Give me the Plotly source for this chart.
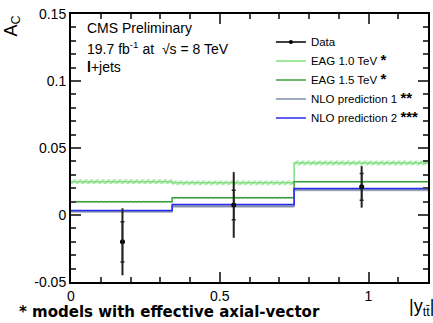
import plotly.graph_objects as go

# ---- data ----
bin_edges = [0.0, 0.34, 0.75, 1.2]
data_x = [0.173, 0.547, 0.977]
data_y = [-0.020, 0.0075, 0.021]
data_err_tot = [0.025, 0.0245, 0.0155]
data_err_stat = [0.015, 0.011, 0.010]

eag10 = [0.0249, 0.0240, 0.0388]
eag10_unc = [0.0018, 0.0018, 0.0018]
eag15 = [0.0099, 0.0129, 0.0249]
eag15_unc = [0.0007, 0.0007, 0.0007]
nlo1 = [0.0027, 0.0065, 0.0188]
nlo1_unc = [0.0010, 0.0010, 0.0010]
nlo2 = [0.0033, 0.0078, 0.0198]

y_ticks = [-0.05, 0, 0.05, 0.1, 0.15]
y_tick_labels = ["-0.05", "0", "0.05", "0.1", "0.15"]
x_ticks = [0, 0.5, 1]
x_tick_labels = ["0", "0.5", "1"]

def step(vals):
    return list(vals) + [vals[-1]]

fig = go.Figure()

def band(vals, unc, fillcolor, pattern=None):
    up = [v + u for v, u in zip(vals, unc)]
    lo = [v - u for v, u in zip(vals, unc)]
    fig.add_trace(go.Scatter(x=bin_edges, y=step(lo), mode="lines", line=dict(width=0, shape="hv"),
                             showlegend=False, hoverinfo="skip"))
    kw = dict(fill="tonexty", fillcolor=fillcolor)
    if pattern:
        kw["fillpattern"] = pattern
    fig.add_trace(go.Scatter(x=bin_edges, y=step(up), mode="lines", line=dict(width=0, shape="hv"),
                             showlegend=False, hoverinfo="skip", **kw))

band(eag10, eag10_unc, "rgba(140,225,140,0.35)",
     dict(shape="/", fgcolor="#55d055", bgcolor="rgba(255,255,255,0)", size=4, solidity=0.55))
band(eag15, eag15_unc, "rgba(60,150,60,0.5)",
     dict(shape="/", fgcolor="#3a9a3a", bgcolor="rgba(255,255,255,0)", size=3, solidity=0.5))
band(nlo1, nlo1_unc, "rgba(120,130,160,0.55)")

def star(n):
    return "<span style='font-size:15px'><b>" + "*" * n + "</b></span>"

fig.add_trace(go.Scatter(x=[None], y=[None], mode="lines+markers", name="Data",
                         line=dict(color="black", width=1.5), marker=dict(color="black", size=4)))
fig.add_trace(go.Scatter(x=bin_edges, y=step(eag10), mode="lines", name="EAG 1.0 TeV " + star(1),
                         line=dict(color="#7ee07e", width=1.5, shape="hv")))
fig.add_trace(go.Scatter(x=bin_edges, y=step(eag15), mode="lines", name="EAG 1.5 TeV " + star(1),
                         line=dict(color="#3f9f3f", width=1.5, shape="hv")))
fig.add_trace(go.Scatter(x=bin_edges, y=step(nlo1), mode="lines", name="NLO prediction 1 " + star(2),
                         line=dict(color="#7f8faa", width=1.5, shape="hv")))
fig.add_trace(go.Scatter(x=bin_edges, y=step(nlo2), mode="lines", name="NLO prediction 2 " + star(3),
                         line=dict(color="#2a2aee", width=1.5, shape="hv")))

# data with total and stat errors
fig.add_trace(go.Scatter(x=data_x, y=data_y, mode="markers", showlegend=False,
                         marker=dict(color="black", size=5),
                         error_y=dict(type="data", array=data_err_tot, color="#222", thickness=2, width=0)))
fig.add_trace(go.Scatter(x=data_x, y=data_y, mode="markers", showlegend=False,
                         marker=dict(color="black", size=1),
                         error_y=dict(type="data", array=data_err_stat, color="#222", thickness=1.5, width=2)))

font = "Liberation Sans, Arial, sans-serif"
axis_common = dict(showline=True, linecolor="black", linewidth=2, mirror="allticks", ticks="inside",
                   ticklen=10, tickcolor="#444", tickwidth=1.5, showgrid=False, zeroline=False,
                   tickfont=dict(family=font, size=14, color="black"),
                   minor=dict(ticks="inside", ticklen=5, tickcolor="#444", tickwidth=1.5))

fig.update_xaxes(range=[0, 1.2], tickvals=x_ticks, ticktext=x_tick_labels,
                 **axis_common)
fig.update_xaxes(minor_dtick=0.1)
fig.update_yaxes(range=[-0.05, 0.15], tickvals=y_ticks, ticktext=y_tick_labels,
                 **axis_common)
fig.update_yaxes(minor_dtick=0.01)

fig.add_annotation(xref="paper", yref="paper", x=0.04, y=0.985, xanchor="left", yanchor="top",
                   text="CMS Preliminary", showarrow=False, font=dict(family=font, size=14, color="black"))
fig.add_annotation(xref="paper", yref="paper", x=0.04, y=0.915, xanchor="left", yanchor="top",
                   text="19.7 fb<sup>-1</sup> at  √s = 8 TeV", showarrow=False,
                   font=dict(family=font, size=14, color="black"))
fig.add_annotation(xref="paper", yref="paper", x=0.04, y=0.84, xanchor="left", yanchor="top",
                   text="<b>l</b>+jets", showarrow=False, font=dict(family=font, size=14, color="black"))

fig.add_annotation(xref="paper", yref="paper", x=-0.165, y=1.0, xanchor="center", yanchor="top",
                   text="A<sub>C</sub>", textangle=-90, showarrow=False,
                   font=dict(family=font, size=18, color="black"))
fig.add_annotation(xref="paper", yref="paper", x=1.0, y=-0.045, xanchor="right", yanchor="top",
                   xshift=8, text="|y<sub>tt̄</sub>|", showarrow=False,
                   font=dict(family=font, size=18, color="black"))
fig.add_annotation(xref="paper", yref="paper", x=-0.15, y=-0.07, xanchor="left", yanchor="top",
                   text="<b>* models with effective axial-vector</b>", showarrow=False,
                   font=dict(family="DejaVu Sans, sans-serif", size=15, color="black"))

fig.update_layout(width=433, height=323, margin=dict(l=71, r=3, t=14, b=41),
                  paper_bgcolor="white", plot_bgcolor="white",
                  legend=dict(x=0.56, y=0.95, xanchor="left", yanchor="top", traceorder="normal",
                              bgcolor="rgba(0,0,0,0)", font=dict(family=font, size=11.5, color="black"),
                              tracegroupgap=0, itemwidth=30))

fig.write_html("out.html", config={"displayModeBar": False},
               post_script="document.body.style.margin='0px';")
